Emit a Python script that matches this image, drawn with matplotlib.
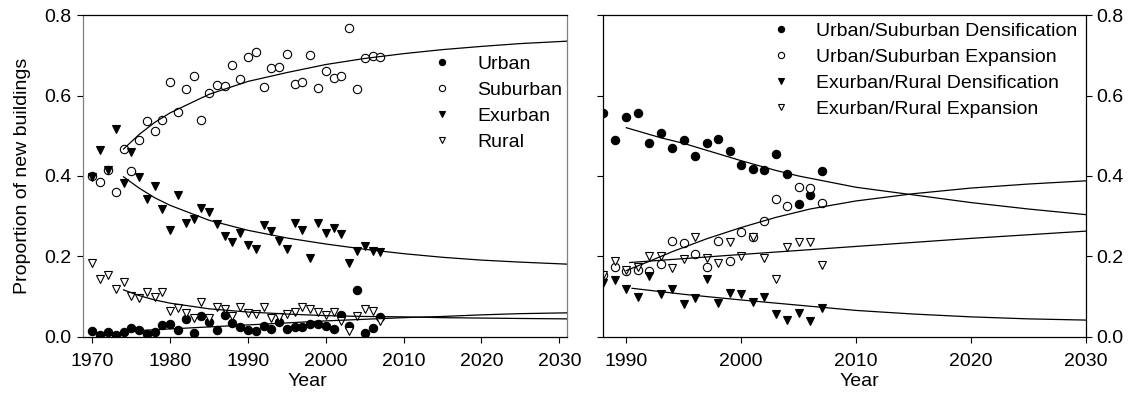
import matplotlib
matplotlib.use("Agg")
import matplotlib.pyplot as plt
import numpy as np

plt.rcParams['font.family'] = ['Liberation Sans', 'DejaVu Sans']
plt.rcParams['font.size'] = 14

# ---- left panel: building type, 1970-2007 ----
years_l = np.arange(1970, 2008)
urban = [0.016, 0.005, 0.012, 0.004, 0.013, 0.023, 0.017, 0.007, 0.012, 0.031,
         0.033, 0.017, 0.044, 0.011, 0.052, 0.036, 0.017, 0.055, 0.034, 0.026,
         0.017, 0.016, 0.027, 0.021, 0.036, 0.021, 0.025, 0.026, 0.032, 0.032,
         0.028, 0.021, 0.055, 0.028, 0.117, 0.009, 0.023, 0.050]
suburban = [0.400, 0.386, 0.415, 0.361, 0.467, 0.412, 0.489, 0.536, 0.513, 0.539,
            0.634, 0.559, 0.615, 0.649, 0.539, 0.605, 0.627, 0.624, 0.677, 0.640,
            0.695, 0.707, 0.620, 0.668, 0.670, 0.702, 0.629, 0.634, 0.700, 0.619,
            0.661, 0.643, 0.648, 0.768, 0.615, 0.693, 0.699, 0.696]
exurban = [0.398, 0.465, 0.415, 0.516, 0.382, 0.460, 0.398, 0.343, 0.376, 0.317,
           0.266, 0.353, 0.282, 0.293, 0.320, 0.310, 0.281, 0.251, 0.237, 0.259,
           0.228, 0.219, 0.278, 0.264, 0.239, 0.218, 0.284, 0.266, 0.196, 0.284,
           0.258, 0.272, 0.255, 0.185, 0.214, 0.227, 0.213, 0.212]
rural = [0.183, 0.143, 0.155, 0.119, 0.136, 0.102, 0.096, 0.113, 0.099, 0.113,
         0.065, 0.071, 0.059, 0.046, 0.088, 0.048, 0.075, 0.069, 0.052, 0.075,
         0.060, 0.057, 0.075, 0.046, 0.050, 0.057, 0.062, 0.075, 0.070, 0.063,
         0.054, 0.061, 0.040, 0.016, 0.052, 0.070, 0.065, 0.040]

# fitted trend curves
fit_yr_a = [1974, 1976, 1978, 1980, 1985, 1990, 1995, 2000, 2005, 2010, 2015, 2020, 2025, 2031]
sub_fit = [0.467, 0.503, 0.533, 0.557, 0.603, 0.635, 0.657, 0.677, 0.692, 0.704, 0.714, 0.722, 0.729, 0.735]
exu_fit = [0.398, 0.370, 0.346, 0.327, 0.290, 0.265, 0.246, 0.231, 0.218, 0.207, 0.198, 0.191, 0.186, 0.181]
rur_fit = [0.117, 0.103, 0.092, 0.084, 0.070, 0.062, 0.057, 0.053, 0.051, 0.050, 0.048, 0.047, 0.046, 0.045]
fit_yr_u = [1976, 1980, 1985, 1990, 1995, 2000, 2005, 2010, 2015, 2020, 2025, 2031]
urb_fit = [0.016, 0.020, 0.025, 0.030, 0.035, 0.040, 0.044, 0.048, 0.051, 0.055, 0.058, 0.060]

# ---- right panel: development type, 1988-2007 ----
years_r = np.arange(1988, 2008)
us_dens = [0.557, 0.489, 0.547, 0.556, 0.481, 0.508, 0.470, 0.489, 0.449, 0.483,
           0.492, 0.462, 0.427, 0.417, 0.415, 0.455, 0.405, 0.330, 0.352, 0.412]
us_exp = [0.154, 0.175, 0.165, 0.166, 0.165, 0.181, 0.238, 0.233, 0.205, 0.175,
          0.239, 0.189, 0.260, 0.248, 0.288, 0.342, 0.325, 0.373, 0.369, 0.334]
er_dens = [0.133, 0.142, 0.120, 0.100, 0.152, 0.108, 0.118, 0.081, 0.096, 0.144,
           0.085, 0.110, 0.108, 0.088, 0.099, 0.056, 0.042, 0.060, 0.040, 0.073]
er_exp = [0.154, 0.190, 0.166, 0.173, 0.200, 0.201, 0.172, 0.194, 0.249, 0.196,
          0.183, 0.235, 0.201, 0.248, 0.196, 0.143, 0.223, 0.236, 0.237, 0.179]

usd_yr = [1990, 1993, 1995, 2000, 2003, 2005, 2010, 2015, 2020, 2025, 2030]
usd_fit = [0.520, 0.495, 0.481, 0.438, 0.414, 0.400, 0.372, 0.353, 0.334, 0.318, 0.304]
use_yr = [1990, 1992, 1994, 1997, 2000, 2003, 2006, 2010, 2015, 2020, 2025, 2030]
use_fit = [0.165, 0.188, 0.212, 0.244, 0.272, 0.297, 0.318, 0.338, 0.356, 0.370, 0.380, 0.388]
ere_yr = [1990.3, 2000, 2011, 2020, 2030]
ere_fit = [0.185, 0.205, 0.227, 0.245, 0.263]
erd_yr = [1990.5, 1995, 2000, 2005, 2010, 2015, 2020, 2025, 2030]
erd_fit = [0.121, 0.106, 0.092, 0.079, 0.066, 0.057, 0.050, 0.045, 0.042]

fig = plt.figure(figsize=(11.33, 3.98), dpi=100)
ax1 = fig.add_axes([0.0733, 0.1533, 0.4272, 0.809])
ax2 = fig.add_axes([0.5325, 0.1533, 0.4258, 0.809])

ms = 6
styles = [dict(marker='o', mfc='black', mec='black'),
          dict(marker='o', mfc='white', mec='black'),
          dict(marker='v', mfc='black', mec='black'),
          dict(marker='v', mfc='white', mec='black')]

for vals, lab, st in zip([urban, suburban, exurban, rural],
                         ['Urban', 'Suburban', 'Exurban', 'Rural'], styles):
    ax1.plot(years_l, vals, ls='none', ms=ms, mew=0.8, label=lab, **st)

for fx, fy in [(fit_yr_a, sub_fit), (fit_yr_a, exu_fit), (fit_yr_a, rur_fit), (fit_yr_u, urb_fit)]:
    ax1.plot(fx, fy, color='black', lw=0.9, zorder=3)

labs_r = ['Urban/Suburban Densification', 'Urban/Suburban Expansion',
          'Exurban/Rural Densification', 'Exurban/Rural Expansion']
for vals, lab, st in zip([us_dens, us_exp, er_dens, er_exp], labs_r, styles):
    ax2.plot(years_r, vals, ls='none', ms=ms, mew=0.8, label=lab, **st)

for fx, fy in [(usd_yr, usd_fit), (use_yr, use_fit), (ere_yr, ere_fit), (erd_yr, erd_fit)]:
    ax2.plot(fx, fy, color='black', lw=0.9, zorder=3)

# axes formatting
ax1.set_xlim(1968.8, 2031)
ax1.set_ylim(0, 0.8)
ax1.set_xticks([1970, 1980, 1990, 2000, 2010, 2020, 2030])
ax1.set_yticks([0.0, 0.2, 0.4, 0.6, 0.8])
ax1.set_yticklabels(['0.0', '0.2', '0.4', '0.6', '0.8'])
ax1.tick_params(direction='out', length=4.3, width=0.8, pad=4)
ax1.tick_params(axis='x', pad=7)
ax1.spines['left'].set_color('#808080')
ax1.spines['right'].set_color('#808080')
ax1.set_ylabel('Proportion of new buildings')
ax1.yaxis.set_label_coords(-0.108, 0.5)
ax1.set_xlabel('Year')
ax1.xaxis.set_label_coords(0.464, -0.113)

ax2.set_xlim(1988, 2030)
ax2.set_ylim(0, 0.8)
ax2.set_xticks([1990, 2000, 2010, 2020, 2030])
ax2.set_yticks([0.0, 0.2, 0.4, 0.6, 0.8])
ax2.set_yticklabels(['0.0', '0.2', '0.4', '0.6', '0.8'])
ax2.tick_params(direction='out', length=4.3, width=0.8, pad=3)
ax2.tick_params(axis='x', pad=7)
ax2.tick_params(axis='y', left=True, right=True, labelleft=False, labelright=True)
ax2.set_xlabel('Year')
ax2.xaxis.set_label_coords(0.53, -0.113)

for ax in (ax1, ax2):
    for s in ax.spines.values():
        s.set_linewidth(0.9)

leg_kw = dict(frameon=False, markerscale=0.75, handlelength=2.0, handletextpad=0.8,
              labelspacing=0.44, borderpad=0, borderaxespad=0, loc='upper left')
ax1.legend(bbox_to_anchor=(0.702, 0.876), **leg_kw)
ax2.legend(bbox_to_anchor=(0.3275, 0.978), **leg_kw)

fig.savefig('out.png', dpi=100)
